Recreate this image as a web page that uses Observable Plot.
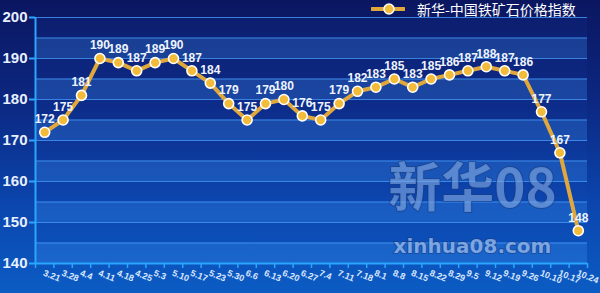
<!DOCTYPE html>
<html><head><meta charset="utf-8">
<script src="https://cdn.jsdelivr.net/npm/d3@7"></script>
<script src="https://cdn.jsdelivr.net/npm/@observablehq/plot@0.6"></script>
<style>
html,body{margin:0;padding:0;}
#wrap{position:relative;width:600px;height:293px;overflow:hidden;
  background:linear-gradient(to bottom,#0b1660 0%,#0c2882 35%,#0b46ae 70%,#0b5cc4 100%);}
#legend{position:absolute;left:371px;top:0;height:17px;display:flex;align-items:center;
  font-family:"Noto Sans CJK SC",sans-serif;font-size:14px;color:#ffffff;}
#legend svg{margin-right:12px;}
</style></head><body>
<div id="wrap"><div id="chart"></div>
<div id="legend"><svg width="34" height="14"><line x1="1" y1="7" x2="33" y2="7" stroke="#e0a83c" stroke-width="4" stroke-linecap="round"/><circle cx="18" cy="7" r="5" fill="#f2bd3c" stroke="#fff" stroke-width="1.5"/></svg><span>新华-中国铁矿石价格指数</span></div>
</div>
<script>
const dates = ["3.21","3.28","4.4","4.11","4.18","4.25","5.3","5.10","5.17","5.23","5.30","6.6","6.13","6.20","6.27","7.4","7.11","7.18","8.1","8.8","8.15","8.22","8.29","9.5","9.12","9.19","9.26","10.10","10.17","10.24"];
const values = [172,175,181,190,189,187,189,190,187,184,179,175,179,180,176,175,179,182,183,185,183,185,186,187,188,187,186,177,167,148];
const yTicks = [140,150,160,170,180,190,200];
const gridLines = [145,150,155,160,165,170,175,180,185,190,195,200];
const lightBands = [140,150,160,170,180,190];
const darkBands = [145,155,165,175,185,195];

const table = values.map((v, i) => ({i, date: dates[i], v}));
const idx = dates.map((d, i) => i);
const edges = d3.range(dates.length + 1).map(i => i - 0.5);

const axisColor = "#2aa6ff";
const chart = Plot.plot({
  width: 600, height: 293,
  marginLeft: 35, marginRight: 13, marginTop: 17, marginBottom: 30,
  style: {background: "transparent", color: "#fff", fontFamily: "'Liberation Sans', Arial, sans-serif"},
  x: {type: "linear", domain: [-0.5, dates.length - 0.5]},
  y: {domain: [140, 200]},
  marks: [
    Plot.rect(lightBands, {y1: d => d, y2: d => d + 5, fill: "#3b8ef0", fillOpacity: 0.3}),
    Plot.rect(darkBands, {y1: d => d, y2: d => d + 5, fill: "#1a4fc0", fillOpacity: 0.1}),
    Plot.ruleY(gridLines, {stroke: "#4aa0ff", strokeOpacity: 0.75, strokeWidth: 1}),
    Plot.text(["新华08"], {frameAnchor: "bottom-right", dx: -115, dy: -57, textAnchor: "middle", fontSize: 53, fontWeight: "bold",
      fontFamily: "'Noto Sans CJK SC', sans-serif", fill: "#86acE4", fillOpacity: 0.6, stroke: "#17397f", strokeOpacity: 0.5, strokeWidth: 2}),
    Plot.text(["xinhua08.com"], {frameAnchor: "bottom-right", dx: -115, dy: -11, textAnchor: "middle", fontSize: 20, fontWeight: "bold",
      fontFamily: "'DejaVu Sans', sans-serif", fill: "#9cc0f2", fillOpacity: 0.75, stroke: "#17397f", strokeOpacity: 0.5, strokeWidth: 2}),
    Plot.ruleX([-0.5], {stroke: axisColor, strokeWidth: 2}),
    Plot.ruleY([140], {stroke: axisColor, strokeWidth: 2}),
    Plot.axisY(yTicks, {tickSize: 6, stroke: axisColor, strokeWidth: 2, fill: "#e8f0ff", fontSize: 15, fontWeight: "bold", tickPadding: 2, label: null}),
    Plot.axisX(edges, {tickSize: 5, stroke: axisColor, strokeWidth: 1.5, tickFormat: () => "", label: null}),
    Plot.axisX(idx, {tickSize: 0, tickFormat: i => dates[i], tickRotate: 22, fontSize: 9, fontWeight: "bold", fill: "#d8e6ff", tickPadding: 9, dx: -1, label: null}),
    Plot.line(table, {x: "i", y: "v", stroke: "#e0a73c", strokeWidth: 4, strokeLinejoin: "round"}),
    Plot.dot(table, {x: "i", y: "v", r: 5, fill: "#f2bb3a", stroke: "#fff", strokeWidth: 1.6}),
    Plot.text(table, {x: "i", y: "v", text: "v", dy: -13, fill: "#eef4ff", fontSize: 12, fontWeight: "bold"})
  ]
});
document.getElementById("chart").appendChild(chart);
</script>
</body></html>
